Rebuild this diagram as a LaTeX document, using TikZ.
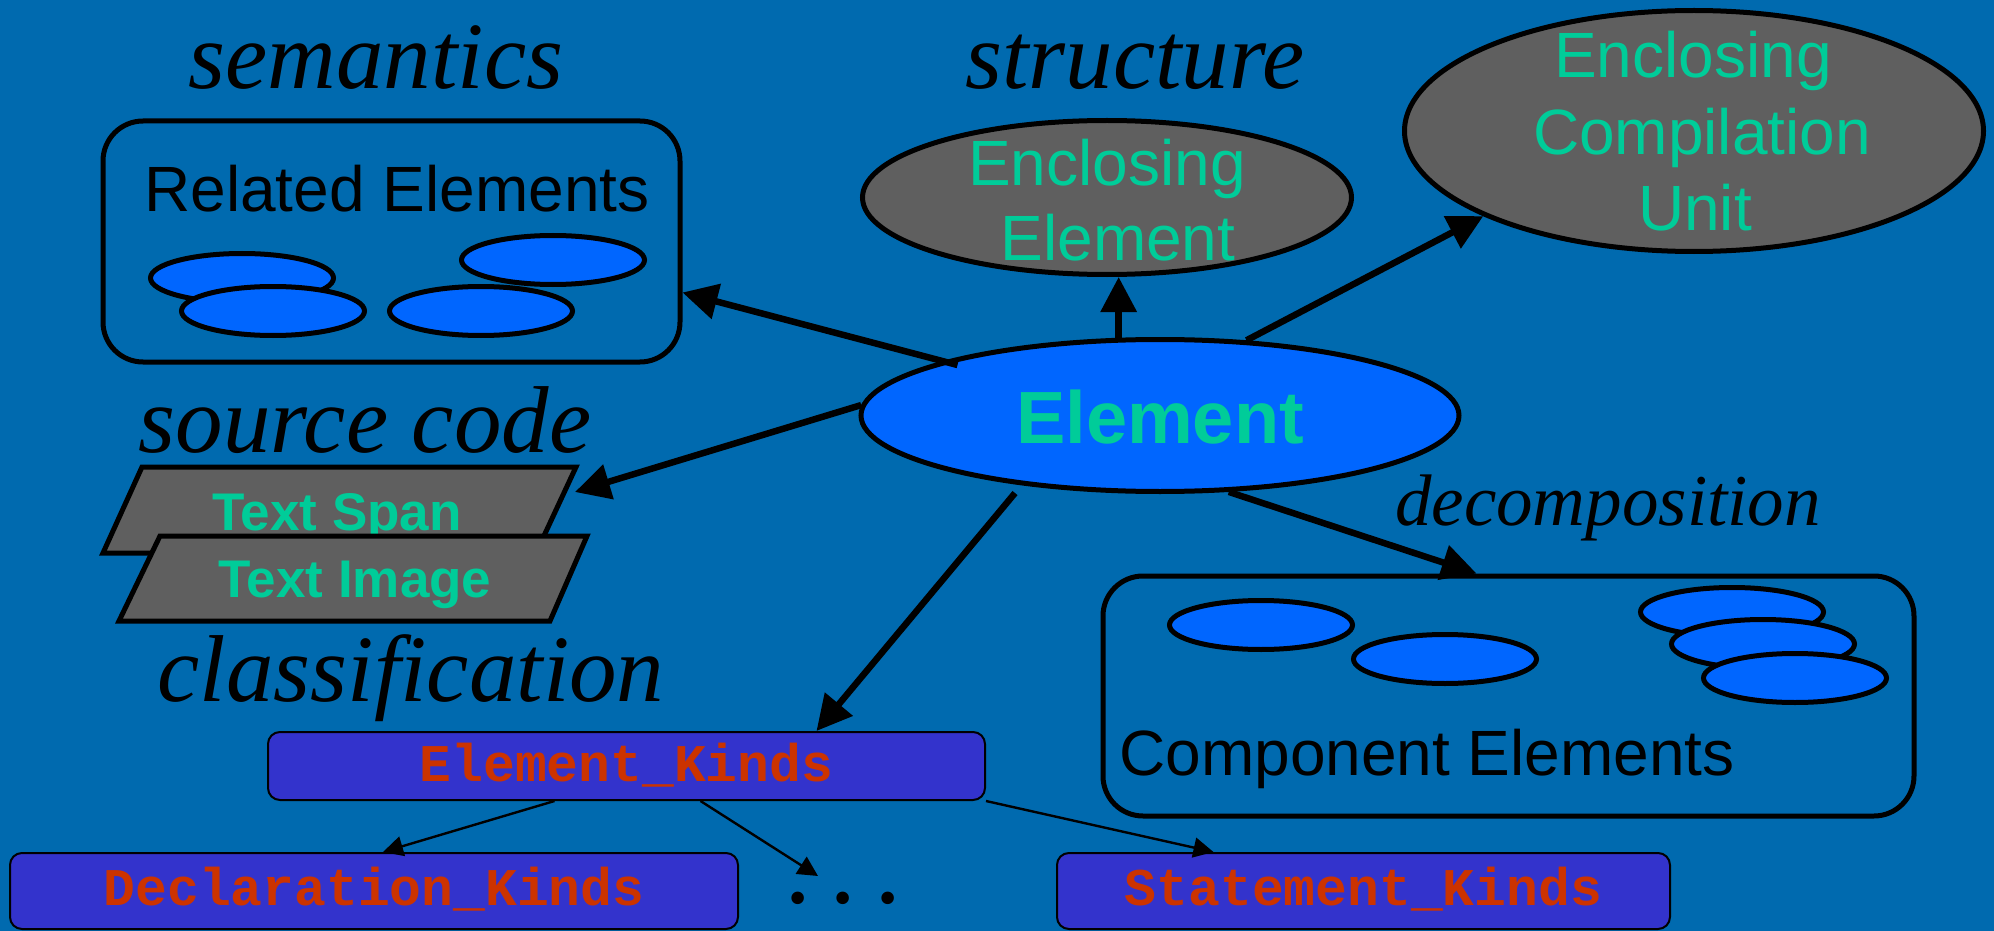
\documentclass[tikz,border=0pt]{standalone}
\usepackage{fontspec}
\setmainfont{Liberation Sans}
\newfontfamily\serfam{Liberation Serif}
\newfontfamily\monofam{Liberation Mono}
\usetikzlibrary{shapes.geometric,arrows.meta,calc}

\definecolor{bgblue}{RGB}{0,106,175}
\definecolor{elblue}{RGB}{0,102,255}
\definecolor{shade}{RGB}{95,95,95}
\definecolor{mint}{RGB}{0,204,153}
\definecolor{kindbox}{RGB}{51,51,204}
\definecolor{kindtext}{RGB}{204,51,0}

\tikzset{
  aspect/.style={font=\serfam\itshape\fontsize{47.5pt}{57pt}\selectfont,
    inner sep=0pt, anchor=base, text=black},
  groupbox/.style={rectangle, draw=black, line width=2.5pt, rounded corners=20pt,
    inner sep=0pt},
  grouptext/.style={font=\fontsize{32pt}{38pt}\selectfont, inner sep=0pt,
    anchor=base west, text=black},
  blob/.style={ellipse, draw=black, line width=2.5pt, fill=elblue,
    minimum width=91.5pt, minimum height=24.5pt, inner sep=0pt},
  greyoval/.style={ellipse, draw=black, line width=2.5pt, fill=shade, inner sep=0pt},
  ovaltext/.style={font=\fontsize{32pt}{38pt}\selectfont, text=mint,
    inner sep=0pt, anchor=base},
  slab/.style={draw=black, line width=2.5pt, fill=shade, line join=miter},
  slabtext/.style={font=\bfseries\fontsize{26.5pt}{32pt}\selectfont, text=mint,
    inner sep=0pt, anchor=base},
  kind/.style={rectangle, draw=black, line width=1pt, fill=kindbox,
    rounded corners=6pt, inner sep=0pt, text=kindtext,
    font=\monofam\bfseries\fontsize{26.5pt}{32pt}\selectfont},
  fat/.style={draw=black, line width=3.25pt,
    -{Triangle[length=17.5pt,width=17.5pt]}},
  slim/.style={draw=black, line width=1.2pt,
    -{Triangle[length=10pt,width=10pt]}}
}

\begin{document}
\begin{tikzpicture}[x=0.5pt,y=-0.5pt]
  % backdrop
  \fill[bgblue] (0,0) rectangle (1994,931);
  \useasboundingbox (0,0) rectangle (1994,931);

  % aspect labels
  \node[aspect] (lsem) at (376,89) {semantics};
  \node[aspect] (lstr) at (1135,89) {structure};
  \node[aspect] (lsrc) at (365,452) {source code};
  \node[aspect] (lcls) at (411,701) {classification};
  \node[aspect, font=\serfam\itshape\fontsize{36.5pt}{44pt}\selectfont]
    (ldec) at (1608,525) {decomposition};

  % related elements group
  \node[groupbox, minimum width=288.5pt, minimum height=120.5pt] (rel) at (391.5,241.5) {};
  \node[grouptext] (reltxt) at (144,212) {Related Elements};
  \node[blob] (r1) at (242,278) {};
  \node[blob] (r2) at (273,311) {};
  \node[blob] (r3) at (553,260) {};
  \node[blob] (r4) at (481,311) {};

  % component elements group
  \node[groupbox, minimum width=405.5pt, minimum height=120pt] (cmp) at (1508.5,696) {};
  \node[grouptext] (cmptxt) at (1119,775) {Component Elements};
  \node[blob] (c1) at (1261,625) {};
  \node[blob] (c2) at (1445,659) {};
  \node[blob] (c3) at (1732,612) {};
  \node[blob] (c4) at (1763,644) {};
  \node[blob] (c5) at (1795,678) {};

  % enclosing element
  \node[greyoval, minimum width=244.5pt, minimum height=77pt] (ee) at (1107,197.5) {};
  \node[ovaltext] (eeA) at (1107,185) {Enclosing};
  \node[ovaltext] (eeB) at (1118,261) {Element};

  % enclosing compilation unit
  \node[greyoval, minimum width=289.5pt, minimum height=120.5pt] (ecu) at (1694,131) {};
  \node[ovaltext] (ecuA) at (1693,78) {Enclosing};
  \node[ovaltext] (ecuB) at (1702,155) {Compilation};
  \node[ovaltext] (ecuC) at (1695,230) {Unit};

  % the element itself
  \node[ellipse, draw=black, line width=2.5pt, fill=elblue, inner sep=0pt,
        minimum width=299pt, minimum height=76pt,
        text=mint, font=\bfseries\fontsize{37pt}{44pt}\selectfont,
        text height=27.5pt, text depth=0pt] (el) at (1160,415.5) {Element};

  % source code slabs
  \draw[slab] (142,467) -- (576,467) -- (536,553) -- (103,553) -- cycle;
  \node[slabtext] (span) at (337,530) {Text Span};
  \draw[slab] (160,536) -- (587,536) -- (550,621) -- (119,621) -- cycle;
  \node[slabtext] (image) at (355,597) {Text Image};
  \coordinate (spanin) at (575,492);

  % classification boxes
  \node[kind, minimum width=358.5pt, minimum height=34pt,
        text height=20pt, text depth=5pt] (ek) at (626.5,766) {Element\_Kinds};
  \node[kind, minimum width=364pt, minimum height=38pt,
        text height=20pt, text depth=6pt] (decl) at (374,891) {Declaration\_Kinds};
  \node[kind, minimum width=306.5pt, minimum height=38pt,
        text height=20pt, text depth=6pt] (stmt) at (1363.5,891) {Statement\_Kinds};
  \node[font=\serfam\bfseries\fontsize{38.5pt}{44pt}\selectfont, inner sep=0pt,
        anchor=base, text=black] (more) at (843,903) {. . .};

  % connectors from the element
  \draw[fat] ($(el.center)!0.93!(el.166)$) -- ($(rel.east)+(0,51)$);
  \draw[fat] (el.118) -- (el.118 |- ee.south);
  \draw[fat] (el.41) -- (ecu.202);
  \draw[fat] (el.178) -- (spanin);
  \draw[fat] ($(el.205)+(2,9)$) -- ($(ek.north)+(190,0)$);
  \draw[fat] (el.312) -- ($(cmp.north)+(-32,0)$);

  % classification hierarchy
  \draw[slim] ($(ek.south)+(-72,0)$) -- ($(decl.north)+(9,0)$);
  \draw[slim] ($(ek.south)+(74,0)$) -- ($(more.base)+(-25,-27)$);
  \draw[slim] (ek.south east) -- ($(stmt.north)+(-150,0)$);
\end{tikzpicture}
\end{document}
